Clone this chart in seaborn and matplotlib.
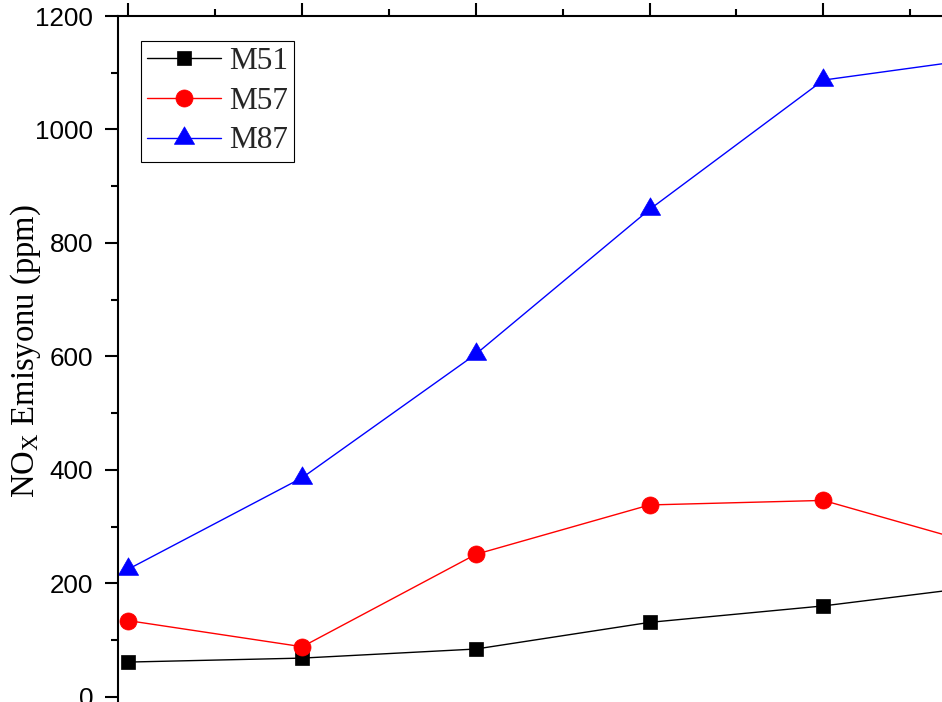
import numpy as np
import pandas as pd
import matplotlib
matplotlib.use("Agg")
import matplotlib.pyplot as plt
from matplotlib.path import Path
from matplotlib.ticker import MultipleLocator
import seaborn as sns

# Measurement points (operating points along the x axis)
x_pts = [1, 2, 3, 4, 5, 6]

# NOx emission (ppm) for each fuel blend
m51 = [61, 68, 84, 131, 160, 198]
m57 = [134, 88, 251, 338, 346, 259]
m87 = [225, 386, 604, 859, 1087, 1129]

series_names = ["M51", "M57", "M87"]
y_ticks = [0, 200, 400, 600, 800, 1000, 1200]

df = pd.DataFrame({
    "x": x_pts * 3,
    "nox": m51 + m57 + m87,
    "seri": [n for n in series_names for _ in x_pts],
})

sns.set_theme(style="ticks")
plt.rcParams["font.family"] = ["Liberation Sans", "DejaVu Sans"]
plt.rcParams["mathtext.fontset"] = "custom"
plt.rcParams["mathtext.rm"] = "Liberation Serif"
plt.rcParams["mathtext.it"] = "Liberation Serif:italic"

fig = plt.figure(figsize=(9.42, 7.02), dpi=100)

# axes extend past the right and bottom edges of the canvas
W, H = 942.0, 702.0
left_px, right_px = 117.5, 1083.9
top_px, bottom_px = 16.0, 730.7
ax = fig.add_axes([left_px / W, (H - bottom_px) / H,
                   (right_px - left_px) / W, (bottom_px - top_px) / H])

# upright triangle with its centroid on the data point
tri = Path([(0, 1.1547), (-1, -0.57735), (1, -0.57735), (0, 1.1547)], closed=True)

styles = {
    "M51": dict(color="black", marker="s", markersize=10.3),
    "M57": dict(color="#ff0000", marker="o", markersize=12.3),
    "M87": dict(color="#0000ff", marker=tri, markersize=16.8),
}

for name in series_names:
    st = styles[name]
    sns.lineplot(data=df[df["seri"] == name], x="x", y="nox", ax=ax,
                 color=st["color"], marker=st["marker"],
                 markersize=st["markersize"], markeredgewidth=0.5,
                 markeredgecolor=st["color"], linewidth=1.0,
                 label=name, errorbar=None, legend=False)

ax.set_xlim(0.9367, 6.5)
ax.set_ylim(-60, 1200)
ax.set_yticks(y_ticks)
ax.yaxis.set_minor_locator(MultipleLocator(100))
ax.set_xticks(x_pts)
ax.xaxis.set_minor_locator(MultipleLocator(0.5))
ax.set_xlabel("")
ax.tick_params(axis="x", which="both", top=True, bottom=True,
               labelbottom=False, labeltop=False, direction="out")
ax.tick_params(axis="y", which="both", left=True, right=False, direction="out")
ax.tick_params(which="major", length=9.4, width=1.5, color="black")
ax.tick_params(which="minor", length=4.7, width=1.5, color="black")
ax.tick_params(axis="y", which="major", labelsize=18.7, pad=8, labelcolor="black")

for side in ["left", "top", "right", "bottom"]:
    ax.spines[side].set_visible(True)
    ax.spines[side].set_linewidth(1.5)
    ax.spines[side].set_color("black")

ax.set_ylabel(r"NO$_\mathregular{X}$ Emisyonu (ppm)",
              fontfamily="Liberation Serif", fontsize=23.5, color="black")
ax.yaxis.set_label_coords((43 - left_px) / (right_px - left_px),
                          (bottom_px - 351) / (bottom_px - top_px))

leg = ax.legend(loc="upper left", bbox_to_anchor=(141 / W, 1 - 41 / H),
                bbox_transform=fig.transFigure, borderaxespad=0,
                prop={"family": "Liberation Serif", "size": 22.5},
                frameon=True, fancybox=False, framealpha=1,
                edgecolor="black", handlelength=2.37, handletextpad=0.25,
                borderpad=0.2, labelspacing=0.34, numpoints=1)
leg.get_frame().set_linewidth(0.8)

fig.savefig("out.png", dpi=100)
